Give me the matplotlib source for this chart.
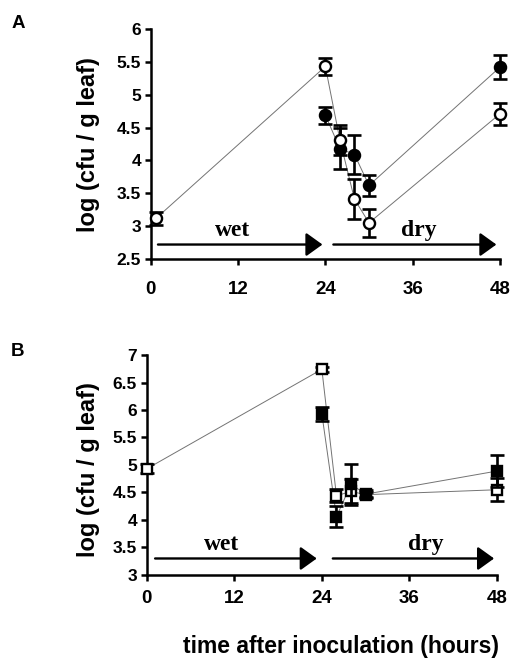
import matplotlib
matplotlib.use("Agg")
import matplotlib.pyplot as plt

plt.rcParams["font.family"] = ["Liberation Sans", "DejaVu Sans"]
plt.rcParams["font.weight"] = "bold"

# ===============================================================================
#         Data (log cfu / g leaf)
# ===============================================================================

x_ticks = [0, 12, 24, 36, 48]

# panel A
a_open_t = [0.75, 24, 26, 28, 30, 48]
a_open_y = [3.12, 5.43, 4.31, 3.41, 3.05, 4.71]
a_open_err = [0.10, 0.13, 0.23, 0.30, 0.21, 0.17]

a_fill_t = [24, 26, 28, 30, 48]
a_fill_y = [4.69, 4.18, 4.09, 3.62, 5.42]
a_fill_err = [0.13, 0.31, 0.30, 0.16, 0.18]

a_yticks = [2.5, 3, 3.5, 4, 4.5, 5, 5.5, 6]

# panel B
b_open_t = [0, 24, 26, 28, 30, 48]
b_open_y = [4.93, 6.74, 4.44, 4.52, 4.46, 4.55]
b_open_err = [0.08, 0.05, 0.12, 0.22, 0.05, 0.21]

b_fill_t = [24, 26, 28, 30, 48]
b_fill_y = [5.93, 4.06, 4.65, 4.47, 4.89]
b_fill_err = [0.13, 0.19, 0.37, 0.07, 0.29]

b_yticks = [3, 3.5, 4, 4.5, 5, 5.5, 6, 6.5, 7]

# ===============================================================================
#         Plot Functions
# ===============================================================================


def draw_series(ax, t, y, err, marker, face, size, z):
    ax.plot(t, y, color="0.45", lw=0.7, zorder=1, clip_on=False)
    eb = ax.errorbar(t, y, yerr=err, fmt="none", ecolor="black",
                     elinewidth=1.9, capsize=4.8, capthick=1.9, zorder=z)
    for part in eb.get_children():
        part.set_clip_on(False)
    ax.plot(t, y, linestyle="none", marker=marker, markersize=size,
            markerfacecolor=face, markeredgecolor="black",
            markeredgewidth=1.7, zorder=z + 0.5, clip_on=False)


def arrow(ax, x0, x1, y):
    ax.annotate("", xy=(x1, y), xytext=(x0, y),
                arrowprops=dict(arrowstyle="-|>,head_length=1.0,head_width=0.72",
                                lw=1.7, color="black", shrinkA=0, shrinkB=0,
                                mutation_scale=10),
                zorder=2)


def style_axes(ax, ylim, yticks, xpad, label_xy):
    ax.set_xlim(0, 48)
    ax.set_ylim(*ylim)
    ax.set_xticks(x_ticks)
    ax.set_yticks(yticks)
    ax.set_yticklabels(["{:g}".format(v) for v in yticks],
                       fontsize=12.5, fontweight="bold")
    ax.set_xticklabels([str(v) for v in x_ticks],
                       fontsize=13.5, fontweight="bold")
    for side in ["top", "right"]:
        ax.spines[side].set_visible(False)
    for side in ["left", "bottom"]:
        ax.spines[side].set_linewidth(1.8)
    ax.tick_params(axis="both", direction="out", length=4, width=1.8)
    ax.tick_params(axis="y", pad=3)
    ax.tick_params(axis="x", pad=xpad)
    ax.set_ylabel("log (cfu / g leaf)", fontsize=17, fontweight="bold")
    ax.yaxis.set_label_coords(*label_xy)


fig = plt.figure(figsize=(5.11, 6.59), dpi=100)

# ---- panel A
ax1 = fig.add_axes([0.2949, 0.6070, 0.6836, 0.349])
draw_series(ax1, a_fill_t, a_fill_y, a_fill_err, "o", "black", 8, 3)
draw_series(ax1, a_open_t, a_open_y, a_open_err, "o", "white", 8, 4)
arrow(ax1, 1.0, 23.6, 2.72)
arrow(ax1, 25.1, 47.5, 2.72)
ax1.text(11.3, 2.85, "wet", family="Liberation Serif", fontsize=17,
         fontweight="bold", ha="center", va="baseline")
ax1.text(36.8, 2.85, "dry", family="Liberation Serif", fontsize=17,
         fontweight="bold", ha="center", va="baseline")
style_axes(ax1, (2.5, 6), a_yticks, 12, (-0.146, 0.496))

# ---- panel B
ax2 = fig.add_axes([0.2871, 0.1275, 0.6855, 0.3338])
draw_series(ax2, b_open_t, b_open_y, b_open_err, "s", "white", 7.5, 3)
draw_series(ax2, b_fill_t, b_fill_y, b_fill_err, "s", "black", 7.5, 4)
arrow(ax2, 1.15, 23.3, 3.30)
arrow(ax2, 25.5, 47.6, 3.30)
ax2.text(10.3, 3.45, "wet", family="Liberation Serif", fontsize=17,
         fontweight="bold", ha="center", va="baseline")
ax2.text(38.3, 3.45, "dry", family="Liberation Serif", fontsize=17,
         fontweight="bold", ha="center", va="baseline")
style_axes(ax2, (3, 7), b_yticks, 7, (-0.134, 0.477))

fig.text(0.667, 0.009, "time after inoculation (hours)", fontsize=16.5,
         fontweight="bold", ha="center", va="baseline")

fig.text(0.022, 0.977, "A", fontsize=13.5, fontweight="bold", va="top")
fig.text(0.022, 0.479, "B", fontsize=13.5, fontweight="bold", va="top")

fig.savefig("out.png", dpi=100)
